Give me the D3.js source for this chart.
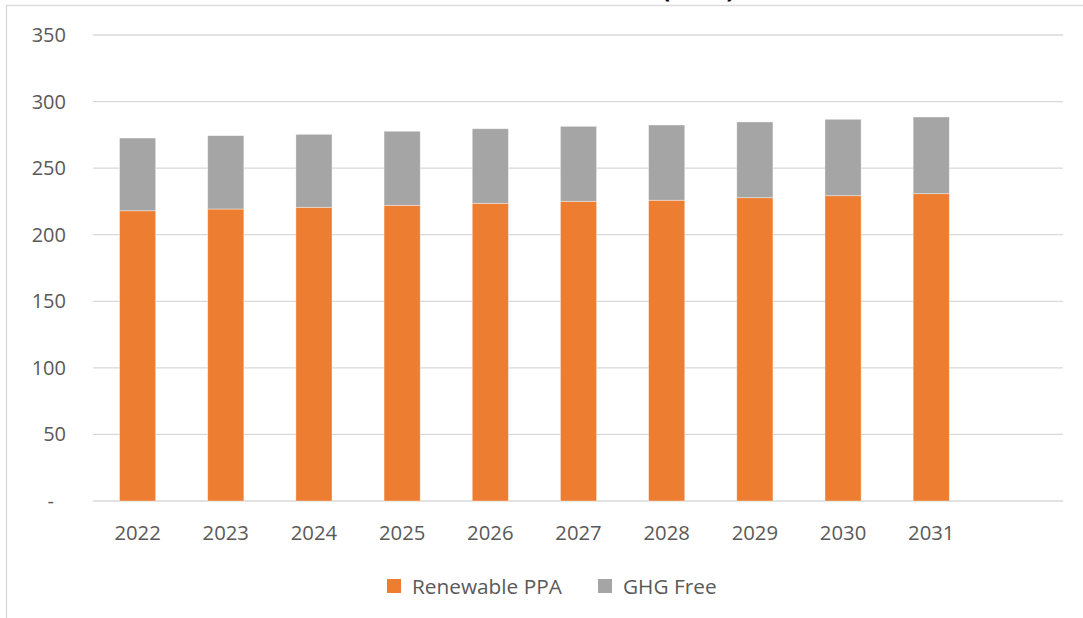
<!DOCTYPE html>
<html>
<head>
<meta charset="utf-8">
<script src="https://cdn.jsdelivr.net/npm/d3@7/dist/d3.min.js"></script>
<style>
  html, body { margin: 0; padding: 0; background: #fff; }
  svg { display: block; }
  text { font-family: "Open Sans", "Noto Sans", sans-serif; }
</style>
</head>
<body>
<svg id="chart" width="1083" height="618"></svg>
<script>
// ---- data ----
const years = ["2022", "2023", "2024", "2025", "2026", "2027", "2028", "2029", "2030", "2031"];
const renewablePPA = [218.0, 219.3, 220.6, 222.1, 223.6, 225.1, 225.9, 227.8, 229.3, 230.8];
const ghgFree = [54.6, 55.1, 54.8, 55.6, 56.0, 56.3, 56.5, 56.9, 57.4, 57.6];
const yTicks = [0, 50, 100, 150, 200, 250, 300, 350];
const yTickLabels = ["-", "50", "100", "150", "200", "250", "300", "350"];
const seriesNames = ["Renewable PPA", "GHG Free"];
const seriesColors = ["#ED7D31", "#A5A5A5"];
const titleText = "(GWh)";

const svg = d3.select("#chart");

// chart frame (extends past the viewport on right/bottom)
svg.append("rect")
  .attr("x", 6.5).attr("y", 5.5)
  .attr("width", 1200).attr("height", 800)
  .attr("fill", "#fff").attr("stroke", "#D9D9D9").attr("stroke-width", 1.3);

// title (mostly cut off above the frame, as in the reference)
svg.append("text")
  .attr("x", 662).attr("y", -2)
  .attr("font-size", 24).attr("font-weight", "bold")
  .attr("fill", "#000")
  .text(titleText);

const x = d3.scaleBand()
  .domain([...years, ""])
  .range([93.5, 1063.5])
  .paddingInner(0.59)
  .paddingOuter(0.295);

const y = d3.scaleLinear().domain([0, 350]).range([501, 35]);

// gridlines
svg.append("g").selectAll("line")
  .data(yTicks)
  .join("line")
  .attr("x1", 93).attr("x2", 1063)
  .attr("y1", d => y(d)).attr("y2", d => y(d))
  .attr("stroke", "#D9D9D9").attr("stroke-width", 1.3);

// y tick labels
svg.append("g").selectAll("text")
  .data(yTicks)
  .join("text")
  .attr("x", d => d === 0 ? 54 : 66)
  .attr("y", d => y(d))
  .attr("dy", "0.35em")
  .attr("text-anchor", "end")
  .attr("font-size", 20)
  .attr("fill", "#595959")
  .text((d, i) => yTickLabels[i]);

// stacked bars
const data = years.map((yr, i) => ({ year: yr, a: renewablePPA[i], b: ghgFree[i] }));
const stack = d3.stack().keys(["a", "b"])(data);

svg.append("g").selectAll("g")
  .data(stack)
  .join("g")
  .attr("fill", (d, i) => seriesColors[i])
  .selectAll("rect")
  .data(d => d)
  .join("rect")
  .attr("x", d => x(d.data.year))
  .attr("width", x.bandwidth())
  .attr("y", d => y(d[1]))
  .attr("height", d => y(d[0]) - y(d[1]))
  .attr("stroke", "#ffffff").attr("stroke-opacity", 0.5).attr("stroke-width", 0.75);

// x labels
svg.append("g").selectAll("text")
  .data(years)
  .join("text")
  .attr("x", d => x(d) + x.bandwidth() / 2)
  .attr("y", 539.5)
  .attr("text-anchor", "middle")
  .attr("font-size", 20.3)
  .attr("fill", "#595959")
  .text(d => d);

// legend
const legendX = [387, 598];
const lg = svg.append("g").selectAll("g")
  .data(seriesNames)
  .join("g")
  .attr("transform", (d, i) => `translate(${legendX[i]},579)`);
lg.append("rect")
  .attr("width", 14).attr("height", 14)
  .attr("fill", (d, i) => seriesColors[i]);
lg.append("text")
  .attr("x", 25).attr("y", 14.5)
  .attr("font-size", 20.8)
  .attr("fill", "#595959")
  .text(d => d);
</script>
</body>
</html>
